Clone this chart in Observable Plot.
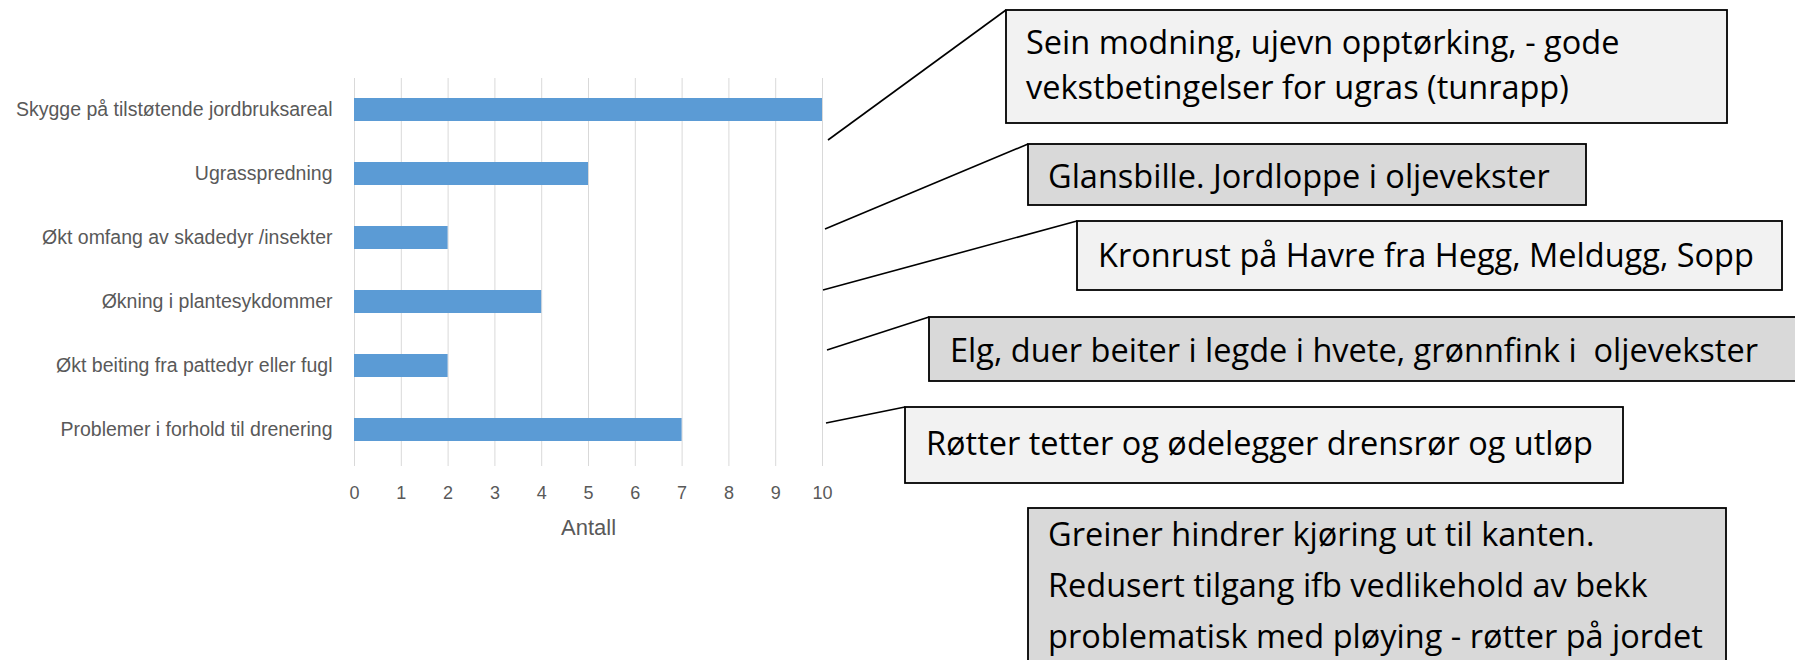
<!DOCTYPE html>
<html><head><meta charset="utf-8">
<script src="https://cdn.jsdelivr.net/npm/d3@7"></script>
<script src="https://cdn.jsdelivr.net/npm/@observablehq/plot@0.6"></script>
<style>
html,body{margin:0;padding:0;background:#fff;}
#wrap{position:relative;width:1795px;height:660px;overflow:hidden;}
#wrap svg{position:absolute;left:0;top:0;}
</style></head><body><div id="wrap"></div>
<script>
// ---- data ----
const categories = [
  "Skygge på tilstøtende jordbruksareal",
  "Ugrasspredning",
  "Økt omfang av skadedyr /insekter",
  "Økning i plantesykdommer",
  "Økt beiting fra pattedyr eller fugl",
  "Problemer i forhold til drenering"
];
const values = [10, 5, 2, 4, 2, 7];
const xTicks = [0, 1, 2, 3, 4, 5, 6, 7, 8, 9, 10];
const xLabel = "Antall";
const notes = [
  ["Sein modning, ujevn opptørking, - gode", "vekstbetingelser for ugras (tunrapp)"],
  ["Glansbille. Jordloppe i oljevekster"],
  ["Kronrust på Havre fra Hegg, Meldugg, Sopp"],
  ["Elg, duer beiter i legde i hvete, grønnfink i  oljevekster"],
  ["Røtter tetter og ødelegger drensrør og utløp"],
  ["Greiner hindrer kjøring ut til kanten.", "Redusert tilgang ifb vedlikehold av bekk", "problematisk med pløying - røtter på jordet"]
];

// ---- annotation layout (pixels) ----
const noteLayout = [
  {x0: 1006, y0: 10,  x1: 1727, y1: 123, fill: "#f2f2f2", tx: 1026, ty: 54,  lh: 45, from: [828, 140]},
  {x0: 1028, y0: 144, x1: 1586, y1: 205, fill: "#d9d9d9", tx: 1048, ty: 188, lh: 45, from: [825, 229]},
  {x0: 1077, y0: 221, x1: 1782, y1: 290, fill: "#f2f2f2", tx: 1098, ty: 267, lh: 45, from: [823, 290]},
  {x0: 929,  y0: 317, x1: 1810, y1: 381, fill: "#d9d9d9", tx: 950,  ty: 362, lh: 45, from: [827, 350]},
  {x0: 905,  y0: 407, x1: 1623, y1: 483, fill: "#f2f2f2", tx: 926,  ty: 455, lh: 45, from: [826, 423]},
  {x0: 1028, y0: 508, x1: 1726, y1: 700, fill: "#d9d9d9", tx: 1048, ty: 546, lh: 51, from: null}
];

const data = categories.map((c, i) => ({category: c, value: values[i]}));

const chart = Plot.plot({
  width: 1795, height: 660,
  marginLeft: 354, marginRight: 973, marginTop: 78, marginBottom: 198,
  style: {fontFamily: "'Liberation Sans', Arial, sans-serif", background: "#fff", overflow: "visible"},
  x: {domain: [0, 10]},
  y: {domain: categories, paddingInner: 0.64, paddingOuter: 0.32},
  marks: [
    Plot.gridX(xTicks, {stroke: "#d9d9d9", strokeOpacity: 1}),
    Plot.axisX(xTicks, {tickSize: 4, tickPadding: 20, stroke: "#d9d9d9", fill: "#595959", fontSize: 18, label: null}),
    Plot.axisY({tickSize: 0, tickPadding: 22, fill: "#595959", fontSize: 19.5, label: null}),
    Plot.barX(data, {x: "value", y: "category", fill: "#5b9bd5"}),
    Plot.text([xLabel], {frameAnchor: "bottom", lineAnchor: "middle", dy: 65, fill: "#595959", fontSize: 22})
  ]
});
document.getElementById("wrap").appendChild(chart);

// ---- annotation overlay ----
const svg = d3.select("#wrap").append("svg")
  .attr("width", 1795).attr("height", 660)
  .style("pointer-events", "none");

noteLayout.forEach((L, i) => {
  if (L.from) {
    svg.append("line")
      .attr("x1", L.from[0]).attr("y1", L.from[1])
      .attr("x2", L.x0).attr("y2", L.y0)
      .attr("stroke", "#000").attr("stroke-width", 1.6);
  }
  svg.append("rect")
    .attr("x", L.x0).attr("y", L.y0)
    .attr("width", L.x1 - L.x0).attr("height", L.y1 - L.y0)
    .attr("fill", L.fill).attr("stroke", "#000").attr("stroke-width", 1.8);
  const t = svg.append("text")
    .attr("font-family", "'Open Sans', sans-serif")
    .attr("font-size", 32.5)
    .attr("fill", "#000")
    .style("white-space", "pre");
  notes[i].forEach((line, j) => {
    t.append("tspan").attr("x", L.tx).attr("y", L.ty + j * L.lh).text(line);
  });
});
</script>
</body></html>
